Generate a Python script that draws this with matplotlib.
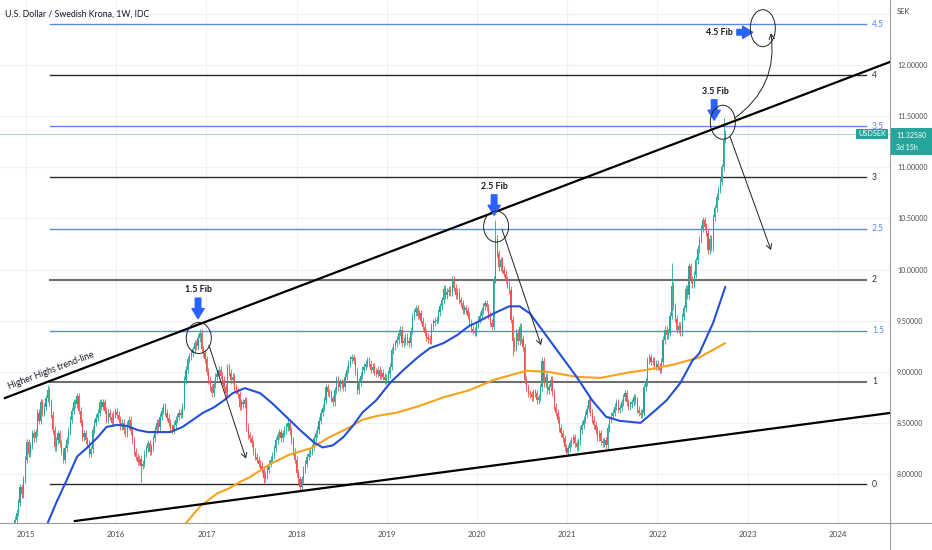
import numpy as np
import pandas as pd
import matplotlib
matplotlib.use('Agg')
import matplotlib.pyplot as plt
import matplotlib.dates as mdates
from matplotlib.patches import Ellipse, Rectangle
from matplotlib.lines import Line2D

plt.rcParams['font.family'] = ['Lato', 'DejaVu Sans']

# ---- weekly closes USDSEK, first candle week of 2014-11-10 ----
closes = [
    7.45, 7.55, 7.62, 7.72, 7.87, 7.80, 7.95, 8.14, 8.31, 8.20,
    8.28, 8.40, 8.35, 8.41, 8.60, 8.52, 8.70, 8.60, 8.66, 8.74,
    8.82, 8.70, 8.58, 8.43, 8.26, 8.33, 8.40, 8.30, 8.22, 8.14,
    8.25, 8.33, 8.42, 8.53, 8.62, 8.70, 8.68, 8.76, 8.62, 8.50,
    8.36, 8.40, 8.33, 8.30, 8.20, 8.24, 8.43, 8.50, 8.55, 8.60,
    8.70, 8.66, 8.70, 8.62, 8.53, 8.60, 8.56, 8.50, 8.58, 8.61,
    8.58, 8.53, 8.47, 8.50, 8.43, 8.40, 8.48, 8.53, 8.42, 8.33,
    8.22, 8.17, 8.12, 8.15, 8.08, 8.10, 8.20, 8.25, 8.30, 8.22,
    8.26, 8.35, 8.43, 8.50, 8.46, 8.56, 8.62, 8.66, 8.60, 8.55,
    8.50, 8.45, 8.43, 8.48, 8.53, 8.56, 8.60, 8.58, 8.66, 8.92,
    9.02, 9.12, 9.15, 9.18, 9.22, 9.28, 9.25, 9.33, 9.38, 9.22,
    9.18, 9.12, 9.00, 8.92, 8.85, 8.79, 8.88, 8.95, 8.98, 9.02,
    8.96, 8.92, 8.85, 8.79, 9.04, 8.99, 8.92, 8.95, 8.85, 8.82,
    8.78, 8.66, 8.70, 8.68, 8.72, 8.46, 8.38, 8.35, 8.30, 8.22,
    8.17, 8.14, 8.10, 8.08, 8.04, 7.96, 7.99, 8.04, 8.10, 8.14,
    8.18, 8.25, 8.33, 8.38, 8.41, 8.35, 8.40, 8.43, 8.46, 8.50,
    8.42, 8.33, 8.22, 8.14, 8.01, 7.95, 7.87, 7.95, 8.04, 8.10,
    8.17, 8.20, 8.22, 8.26, 8.35, 8.40, 8.43, 8.52, 8.60, 8.65,
    8.72, 8.85, 8.80, 8.79, 8.74, 8.70, 8.82, 8.92, 8.85, 8.89,
    8.88, 8.85, 8.95, 9.02, 9.08, 9.12, 9.14, 9.11, 9.00, 8.82,
    8.90, 8.96, 9.02, 9.05, 9.08, 9.11, 9.08, 9.02, 9.05, 9.00,
    8.98, 9.02, 8.96, 8.99, 8.95, 8.92, 8.94, 8.98, 9.05, 9.21,
    9.25, 9.28, 9.31, 9.38, 9.41, 9.28, 9.30, 9.34, 9.30, 9.28,
    9.40, 9.54, 9.58, 9.62, 9.55, 9.57, 9.50, 9.44, 9.38, 9.34,
    9.32, 9.31, 9.44, 9.48, 9.50, 9.51, 9.58, 9.64, 9.70, 9.81,
    9.75, 9.78, 9.80, 9.78, 9.90, 9.82, 9.75, 9.78, 9.70, 9.67,
    9.60, 9.62, 9.60, 9.55, 9.48, 9.42, 9.40, 9.38, 9.46, 9.51,
    9.55, 9.60, 9.64, 9.67, 9.63, 9.55, 9.48, 9.44, 9.90, 10.30,
    10.16, 10.02, 10.09, 10.00, 9.96, 9.90, 9.85, 9.80, 9.51, 9.30,
    9.24, 9.38, 9.30, 9.44, 9.32, 9.24, 8.92, 8.85, 8.79, 8.78,
    8.75, 8.80, 8.79, 8.72, 8.75, 8.85, 9.11, 8.89, 8.95, 8.82,
    8.85, 8.92, 8.80, 8.66, 8.60, 8.53, 8.45, 8.40, 8.35, 8.26,
    8.21, 8.25, 8.30, 8.33, 8.36, 8.30, 8.26, 8.32, 8.43, 8.48,
    8.53, 8.58, 8.64, 8.72, 8.60, 8.53, 8.48, 8.43, 8.36, 8.40,
    8.32, 8.30, 8.33, 8.28, 8.45, 8.53, 8.57, 8.60, 8.66, 8.70,
    8.63, 8.65, 8.70, 8.75, 8.79, 8.70, 8.66, 8.68, 8.70, 8.75,
    8.72, 8.63, 8.60, 8.58, 8.60, 8.85, 8.90, 9.11, 9.14, 9.10,
    9.11, 9.05, 9.08, 9.05, 9.02, 9.10, 9.31, 9.41, 9.36, 9.38,
    9.55, 9.84, 9.64, 9.52, 9.41, 9.45, 9.38, 9.54, 9.62, 9.81,
    9.75, 10.03, 9.90, 9.85, 9.95, 10.09, 10.20, 10.29, 10.40, 10.48,
    10.42, 10.36, 10.19, 10.30, 10.22, 10.51, 10.60, 10.71, 10.78, 10.86,
    11.00, 11.27, 11.3258,
]
first_open = 7.38
wick = 0.035
# long shadows seen on the chart {week index: price}
spike_hi = {20: 8.87, 108: 9.42, 279: 10.48, 381: 10.06, 411: 11.48}
spike_lo = {74: 7.92, 145: 7.90, 166: 7.82, 289: 9.15}

# 50 week MA (blue) and 200 week MA (orange) at week indices
ma50_idx = [18, 20, 25, 31, 37, 43, 49, 54, 60, 66, 72, 78, 85, 91, 98, 104, 110, 116, 122, 127,
            134, 143, 150, 158, 166, 174, 179, 185, 191, 197, 202, 210, 218, 226, 234, 241, 249, 257, 264, 268,
            278, 287, 293, 299, 306, 316, 326, 335, 343, 351, 363, 370, 378, 386, 393, 397, 405, 412]
ma50_val = [7.40, 7.52, 7.72, 7.94, 8.17, 8.26, 8.36, 8.46, 8.48, 8.47, 8.43, 8.41, 8.41, 8.41, 8.46, 8.53, 8.60, 8.65, 8.72, 8.79,
            8.84, 8.79, 8.69, 8.56, 8.43, 8.31, 8.26, 8.28, 8.36, 8.48, 8.60, 8.72, 8.89, 9.02, 9.14, 9.23, 9.28, 9.36, 9.45, 9.48,
            9.57, 9.64, 9.64, 9.57, 9.41, 9.18, 8.95, 8.72, 8.56, 8.52, 8.50, 8.60, 8.72, 8.89, 9.11, 9.18, 9.48, 9.83]
ma200_idx = [96, 100, 108, 118, 125, 131, 137, 149, 160, 172, 183, 195, 202, 211, 222, 234, 249, 264, 278,
             297, 309, 326, 340, 355, 367, 382, 397, 412]
ma200_val = [7.47, 7.52, 7.68, 7.81, 7.86, 7.92, 7.97, 8.10, 8.19, 8.25, 8.36, 8.46, 8.53, 8.57, 8.60, 8.66, 8.75, 8.82, 8.92,
             9.01, 9.00, 8.95, 8.94, 8.99, 9.02, 9.07, 9.14, 9.28]

fib_levels = [0, 1, 1.5, 2, 2.5, 3, 3.5, 4, 4.5]
fib_labels = ['0', '1', '1.5', '2', '2.5', '3', '3.5', '4', '4.5']
fib_base = 7.90
fib_step = 1.0

# trend lines (start date, price) -> (end date, price)
upper_tl = [('2014-10-08', 8.743), ('2024-07-31', 12.03)]
lower_tl = [('2015-07-18', 7.54), ('2024-07-31', 8.597)]

last_price = 11.3258
years = list(range(2015, 2025))

# -------------------------------------------------------------------
dates = pd.date_range('2014-11-10', periods=len(closes), freq='7D')
xd = mdates.date2num(dates.to_pydatetime())
c = np.array(closes)
o = np.concatenate([[first_open], c[:-1]])
hi = np.maximum(o, c) + wick
lo = np.minimum(o, c) - wick
for k, v in spike_hi.items():
    hi[k] = v
for k, v in spike_lo.items():
    lo[k] = v
up = c >= o
col = np.where(up, '#26a69a', '#ef5350')

W, H = 932, 550
fig = plt.figure(figsize=(W / 100, H / 100), dpi=100)
ax = fig.add_axes([0, 27 / H, 890 / W, 523 / H])
x0, x1 = mdates.datestr2num('2014-09-18'), mdates.datestr2num('2024-07-31')
y0, y1 = 7.5208, 12.6357
ax.set_xlim(x0, x1)
ax.set_ylim(y0, y1)
dpx = (x1 - x0) / 890.0
ppx = (y1 - y0) / 523.0

def d(s):
    return mdates.datestr2num(s)

# grid
ygrid = np.arange(8.0, 12.51, 0.5)
year_x = [d('%d-01-01' % yy) for yy in years]
for yy in ygrid:
    ax.axhline(yy, color='#eff1f6', lw=0.8, zorder=0)
for xx in year_x:
    ax.axvline(xx, color='#eff1f6', lw=0.8, zorder=0)

# fib levels
fx0, fx1 = d('2015-04-08'), d('2024-04-25')
for lvl, lab in zip(fib_levels, fib_labels):
    p = fib_base + lvl * fib_step
    if lvl % 1:
        cl, lw = '#5c87ee', 1.0
    elif lvl in (1, 2):
        cl, lw = '#6e6e6e', 1.5
    else:
        cl, lw = '#2a2a2a', 1.0
    ax.plot([fx0, fx1], [p, p], color=cl, lw=lw, zorder=1)
    ax.text(fx1 + 6 * dpx, p, lab, color=cl if lvl % 1 else '#333333', fontsize=6.2,
            va='center', ha='left', zorder=1)

# current price line
ax.axhline(last_price, color='#26a69a', lw=0.6, alpha=0.45, zorder=1)

# candles
ax.vlines(xd, lo, hi, colors=col, lw=0.6, zorder=2)
body_b = np.minimum(o, c)
body_h = np.maximum(np.abs(c - o), 0.008)
ax.bar(xd, body_h, bottom=body_b, width=4.6, color=col, linewidth=0, zorder=2)

# moving averages
ax.plot(xd[ma200_idx], ma200_val, color='#f7a21b', lw=1.5, zorder=3, solid_capstyle='round')
ax.plot(xd[ma50_idx], ma50_val, color='#2450d8', lw=1.5, zorder=3, solid_capstyle='round')

# trend lines
for tl in (upper_tl, lower_tl):
    ax.plot([d(tl[0][0]), d(tl[1][0])], [tl[0][1], tl[1][1]], color='#000000', lw=1.6, zorder=4)

ax.text(d('2014-10-30'), 8.81, 'Higher Highs trend-line', rotation=20.8, rotation_mode='anchor',
        fontsize=6.4, color='#131722', ha='left', va='bottom', zorder=5)

# annotations
fib_font = dict(fontsize=6.4, color='#131722', fontweight='bold', zorder=6)
blue = '#2962ff'
fat = 'simple,head_length=0.9,head_width=1.1,tail_width=0.5'

def fat_arrow(xa, ya, xb, yb):
    ax.annotate('', xy=(xb, yb), xytext=(xa, ya),
                arrowprops=dict(arrowstyle=fat, color=blue, shrinkA=0, shrinkB=0,
                                mutation_scale=8), zorder=6)

def thin_arrow(xa, ya, xb, yb, rad=0.0):
    ax.annotate('', xy=(xb, yb), xytext=(xa, ya),
                arrowprops=dict(arrowstyle='->,head_length=0.35,head_width=0.2', color='#222222', lw=0.7,
                                shrinkA=0, shrinkB=0, connectionstyle='arc3,rad=%g' % rad), zorder=6)

def circle(xc, yc, wpx, hpx):
    ax.add_patch(Ellipse((xc, yc), wpx * dpx, hpx * ppx, fill=False, ec='#222222', lw=0.7, zorder=6))

# 1.5 fib
ax.text(d('2016-11-28'), 9.80, '1.5 Fib', ha='center', va='center', **fib_font)
fat_arrow(d('2016-11-28'), 9.72, d('2016-11-28'), 9.52)
circle(d('2016-12-01'), 9.33, 25, 31)
thin_arrow(d('2017-01-11'), 9.26, d('2017-06-10'), 8.15)

# 2.5 fib
ax.text(d('2020-03-11'), 10.81, '2.5 Fib', ha='center', va='center', **fib_font)
fat_arrow(d('2020-03-11'), 10.73, d('2020-03-11'), 10.53)
circle(d('2020-03-19'), 10.42, 25, 31)
thin_arrow(d('2020-04-12'), 10.39, d('2020-09-17'), 9.26)

# 3.5 fib
ax.text(d('2022-08-22'), 11.74, '3.5 Fib', ha='center', va='center', **fib_font)
fat_arrow(d('2022-08-19'), 11.66, d('2022-08-19'), 11.46)
circle(d('2022-09-23'), 11.44, 25, 34)
thin_arrow(d('2022-10-22'), 11.30, d('2023-04-06'), 10.19)
thin_arrow(d('2022-11-10'), 11.48, d('2023-04-06'), 12.31, rad=0.3)

# 4.5 fib
ax.text(d('2022-11-02'), 12.32, '4.5 Fib', ha='right', va='center', **fib_font)
fat_arrow(d('2022-11-19'), 12.32, d('2023-01-22'), 12.32)
circle(d('2023-03-04'), 12.36, 25, 37)

# title
ax.text(5 / 890, 1 - 14 / 523, 'U.S. Dollar / Swedish Krona, 1W, IDC', transform=ax.transAxes,
        fontsize=6.3, color='#131722', ha='left', va='center', zorder=7)

# axes look
for s in ('top', 'left'):
    ax.spines[s].set_visible(False)
for s in ('right', 'bottom'):
    ax.spines[s].set_color('#9a9ea8')
    ax.spines[s].set_linewidth(0.8)
ax.yaxis.tick_right()
ax.set_yticks(np.arange(8.0, 12.01, 0.5))
ax.set_yticklabels(['%.5f' % v for v in np.arange(8.0, 12.01, 0.5)])
ax.set_xticks(year_x)
ax.set_xticklabels([str(yy) for yy in years])
ax.tick_params(axis='y', length=0, pad=5, labelsize=5.0, labelcolor='#4a4a4a')
ax.tick_params(axis='x', length=0, pad=6, labelsize=5.8, labelcolor='#4a4a4a')

fig.add_artist(Line2D([890 / W, 890 / W], [0, 27 / H], color='#9a9ea8', lw=0.8))
fig.add_artist(Line2D([890 / W, 1], [27 / H, 27 / H], color='#9a9ea8', lw=0.8))
fig.text(897 / W, 1 - 12 / H, 'SEK', fontsize=5.4, color='#4a4a4a', va='center', ha='left')

# last price tags
ax.text(1 - 4 / 890, last_price, 'USDSEK', transform=ax.get_yaxis_transform(), fontsize=5.2,
        color='white', ha='right', va='center', zorder=8,
        bbox=dict(boxstyle='square,pad=0.25', fc='#26a69a', ec='none'))
fig.add_artist(Rectangle((891 / W, (H - 155) / H), 41 / W, 27 / H, transform=fig.transFigure,
                         fc='#26a69a', ec='none'))
fig.text(896 / W, 1 - 135 / H, '11.32580', fontsize=5.0, color='white', va='center', ha='left')
fig.text(896 / W, 1 - 148 / H, '3d 15h', fontsize=5.0, color='white', va='center', ha='left')

fig.savefig('out.png', dpi=100)
